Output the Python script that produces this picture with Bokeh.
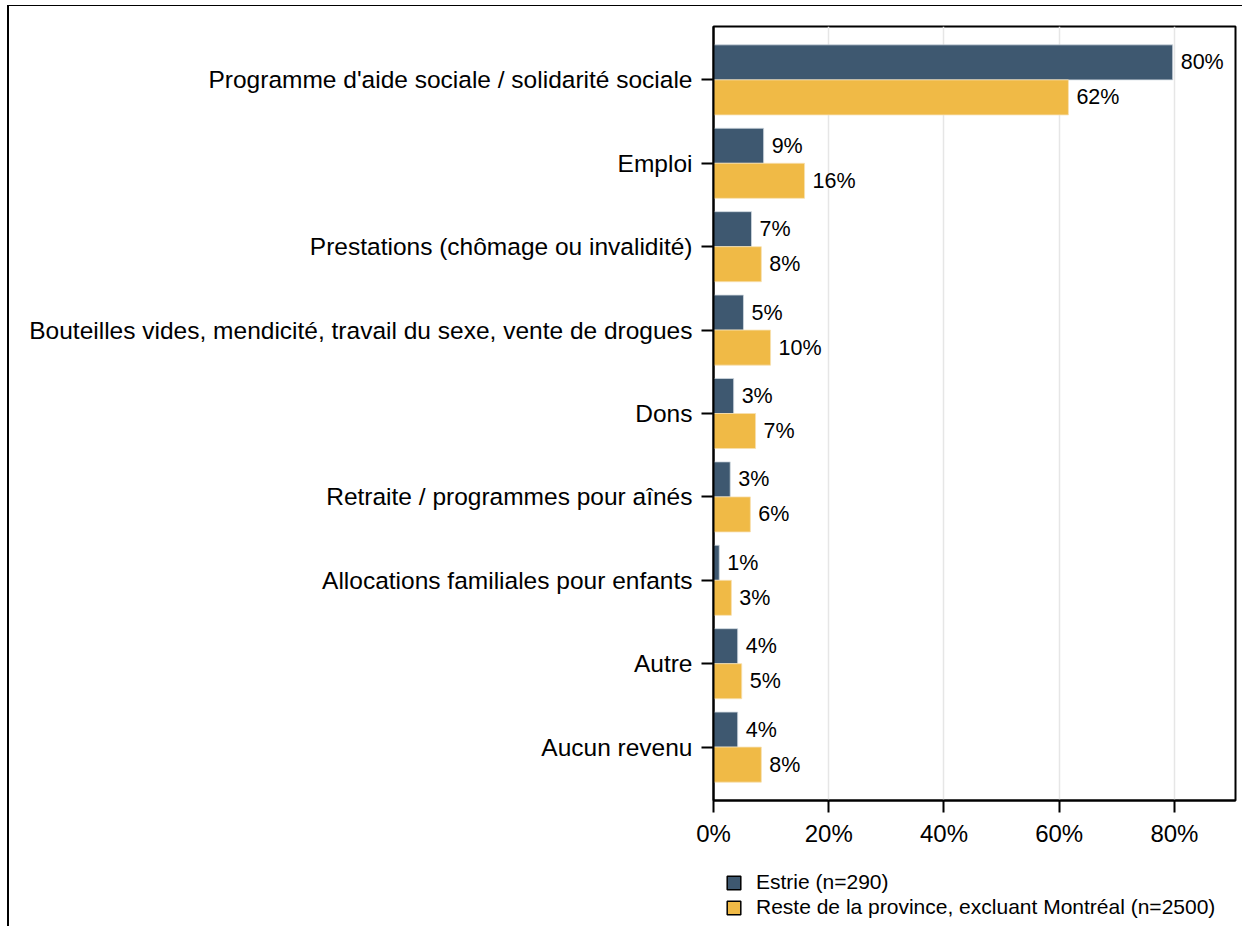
from bokeh.plotting import figure
from bokeh.layouts import column
from bokeh.models import (ColumnDataSource, FactorRange, Range1d, FixedTicker,
                          PrintfTickFormatter, Legend, LegendItem)
from bokeh.transform import dodge
from bokeh.core.properties import value
from bokeh.embed import file_html
from bokeh.resources import INLINE

categories = [
    "Programme d'aide sociale / solidarité sociale",
    "Emploi",
    "Prestations (chômage ou invalidité)",
    "Bouteilles vides, mendicité, travail du sexe, vente de drogues",
    "Dons",
    "Retraite / programmes pour aînés",
    "Allocations familiales pour enfants",
    "Autre",
    "Aucun revenu",
]
estrie = [79.7, 8.7, 6.6, 5.2, 3.5, 2.9, 1.0, 4.2, 4.2]
reste = [61.6, 15.8, 8.3, 9.9, 7.3, 6.4, 3.1, 4.9, 8.3]
estrie_labels = ["80%", "9%", "7%", "5%", "3%", "3%", "1%", "4%", "4%"]
reste_labels = ["62%", "16%", "8%", "10%", "7%", "6%", "3%", "5%", "8%"]
x_ticks = [0, 20, 40, 60, 80]
series_names = ["Estrie (n=290)", "Reste de la province, excluant Montréal (n=2500)"]
colors = ["#3e5870", "#f0ba46"]

FONT = "Liberation Sans"

src = ColumnDataSource(dict(cat=categories, e=estrie, r=reste,
                            el=estrie_labels, rl=reste_labels))

p = figure(width=1233, height=854, output_backend="svg", toolbar_location=None,
           y_range=FactorRange(factors=list(reversed(categories)),
                               range_padding=0.14, range_padding_units="absolute"),
           x_range=Range1d(0, 90.6),
           min_border_left=704, min_border_right=7, min_border_top=20,
           min_border_bottom=60)

bar_h = 0.42
off = 0.21
p.hbar(y=dodge("cat", off, range=p.y_range), right="e", left=0, height=bar_h,
       source=src, fill_color=colors[0], line_color="#cfd8e0", line_width=0.8)
p.hbar(y=dodge("cat", -off, range=p.y_range), right="r", left=0, height=bar_h,
       source=src, fill_color=colors[1], line_color="#f7e0b0", line_width=0.8)

p.text(x="e", y=dodge("cat", off, range=p.y_range), text="el", source=src,
       x_offset=8, text_baseline="middle", text_font=value(FONT),
       text_font_size="21.5px", text_color="black")
p.text(x="r", y=dodge("cat", -off, range=p.y_range), text="rl", source=src,
       x_offset=8, text_baseline="middle", text_font=value(FONT),
       text_font_size="21.5px", text_color="black")

p.xaxis.ticker = FixedTicker(ticks=x_ticks)
p.xaxis.formatter = PrintfTickFormatter(format="%d%%")
p.xaxis.major_label_text_font = FONT
p.xaxis.major_label_text_font_size = "24px"
p.xaxis.major_label_standoff = 7
p.xaxis.major_tick_out = 12
p.xaxis.major_tick_in = 0
p.xaxis.minor_tick_line_color = None
p.xaxis.axis_line_width = 2
p.xaxis.major_tick_line_width = 2

p.yaxis.major_label_text_font = FONT
p.yaxis.major_label_text_font_size = "24.5px"
p.yaxis.major_label_standoff = 9
p.yaxis.major_tick_out = 12
p.yaxis.major_tick_in = 0
p.yaxis.axis_line_width = 2
p.yaxis.major_tick_line_width = 2
p.yaxis.major_label_text_color = "black"
p.xaxis.major_label_text_color = "black"

p.xgrid.grid_line_color = "#e6e6e6"
p.xgrid.grid_line_width = 1.5
p.ygrid.grid_line_color = None

p.outline_line_color = "black"
p.outline_line_width = 2
p.outline_line_alpha = 1

# legend panel: a second, axis-less figure directly below the chart
lg = figure(width=1233, height=66, output_backend="svg", toolbar_location=None,
            x_axis_location=None, y_axis_location=None,
            min_border_left=0, min_border_right=0, min_border_top=0,
            min_border_bottom=0, outline_line_color=None,
            x_range=Range1d(0, 1), y_range=Range1d(0, 1))
lg.grid.visible = False
nan = float("nan")
proxy = ColumnDataSource(dict(y=[nan], right=[nan]))
l1 = lg.hbar(y="y", right="right", height=0.1, source=proxy,
             fill_color=colors[0], line_color="black", line_width=1.5)
l2 = lg.hbar(y="y", right="right", height=0.1, source=proxy,
             fill_color=colors[1], line_color="black", line_width=1.5)
legend = Legend(items=[LegendItem(label=series_names[0], renderers=[l1], index=0),
                       LegendItem(label=series_names[1], renderers=[l2], index=0)],
                location=(12, 7), orientation="vertical",
                border_line_color=None, background_fill_alpha=0,
                glyph_width=17, glyph_height=17, label_height=17,
                label_standoff=14, spacing=1, padding=0, margin=0,
                label_text_font=FONT, label_text_font_size="21px",
                label_text_color="black")
lg.add_layout(legend, "center")

layout = column(p, lg, spacing=0,
                styles={"margin-left": "7px", "margin-top": "5px",
                        "border-left": "2px solid black",
                        "border-top": "1px solid black"})

open("out.html", "w").write(file_html(layout, INLINE))
